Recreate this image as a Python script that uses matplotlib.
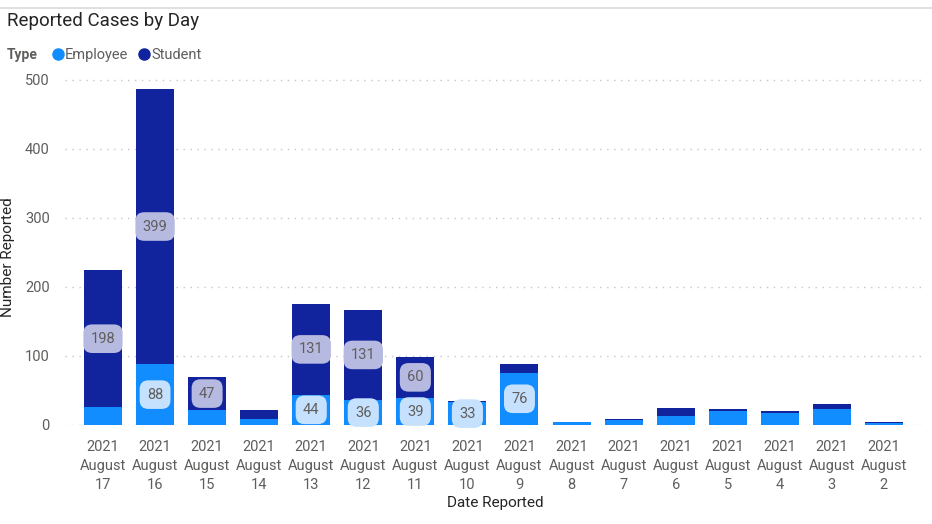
import matplotlib.pyplot as plt
from matplotlib.lines import Line2D
import numpy as np

plt.rcParams['font.family'] = ['Roboto', 'DejaVu Sans']

dates = ['17', '16', '15', '14', '13', '12', '11', '10', '9', '8', '7', '6', '5', '4', '3', '2']
employee = [26, 88, 22, 9, 44, 36, 39, 33, 76, 4, 7, 13, 21, 18, 23, 3]
student = [198, 399, 47, 13, 131, 131, 60, 2, 12, 1, 1, 12, 2, 3, 7, 1]
# only segments that Power BI labelled
emp_labels = [None, 88, None, None, 44, 36, 39, 33, 76, None, None, None, None, None, None, None]
stu_labels = [198, 399, 47, None, 131, 131, 60, None, None, None, None, None, None, None, None, None]

c_emp = '#118DFF'
c_stu = '#12239E'
grey = '#605E5C'

W, H = 932, 524
fig = plt.figure(figsize=(W / 100, H / 100), dpi=100)
ax = fig.add_axes([65 / W, 1 - 425 / H, (925 - 65) / W, (425 - 75) / H])

x = np.arange(len(dates))
emp = np.array(employee)
stu = np.array(student)
ax.bar(x, emp, width=0.73, color=c_emp, zorder=2)
ax.bar(x, stu, width=0.73, bottom=emp, color=c_stu, zorder=2)

box = 'round,pad=0.5,rounding_size=0.6'
for i in range(len(dates)):
    if emp_labels[i] is not None:
        ax.text(x[i], emp[i] / 2, str(emp_labels[i]), ha='center', va='center', fontsize=10.5,
                color=grey, zorder=3, bbox=dict(boxstyle=box, fc='#C6E1FD', ec='none'))
    if stu_labels[i] is not None:
        ax.text(x[i], emp[i] + stu[i] / 2, str(stu_labels[i]), ha='center', va='center', fontsize=10.5,
                color=grey, zorder=3, bbox=dict(boxstyle=box, fc='#B7BAE0', ec='none'))

ax.set_xlim(-0.73, 15.79)
ax.set_ylim(0, 507)
ax.set_yticks([0, 100, 200, 300, 400, 500])
ax.set_xticks(x)
ax.set_xticklabels(['2021\nAugust\n' + d for d in dates], linespacing=1.45)
ax.tick_params(length=0, labelsize=10.5, labelcolor=grey, pad=11)
ax.tick_params(axis='y', pad=11)
ax.grid(axis='y', linestyle=(0, (1, 4)), color='#C8C6C4', linewidth=1, zorder=0)
for s in ax.spines.values():
    s.set_visible(False)

ax.set_ylabel('Number Reported', fontsize=11, color='#252423')
ax.yaxis.set_label_coords(-0.058, 0.48)
ax.set_xlabel('Date Reported', fontsize=11, color='#252423', labelpad=3)

fig.text(7 / W, 1 - 21 / H, 'Reported Cases by Day', fontsize=13.5, color='#252423', va='center')
fig.text(7 / W, 1 - 55 / H, 'Type', fontsize=10, color=grey, fontweight='bold', va='center')
handles = [Line2D([], [], marker='o', ls='', color=c_emp, markersize=8),
           Line2D([], [], marker='o', ls='', color=c_stu, markersize=8)]
fig.legend(handles, ['Employee', 'Student'], loc='center left', bbox_to_anchor=(43 / W, 1 - 55 / H),
           ncol=2, frameon=False, handletextpad=0.0, columnspacing=0.6, handlelength=1.0,
           borderpad=0, labelcolor=grey, prop={'size': 10.5})

fig.add_artist(Line2D([0, 1], [1 - 8 / H, 1 - 8 / H], color='#D9D9D9', lw=1.2))

fig.savefig('out.png', dpi=100)
